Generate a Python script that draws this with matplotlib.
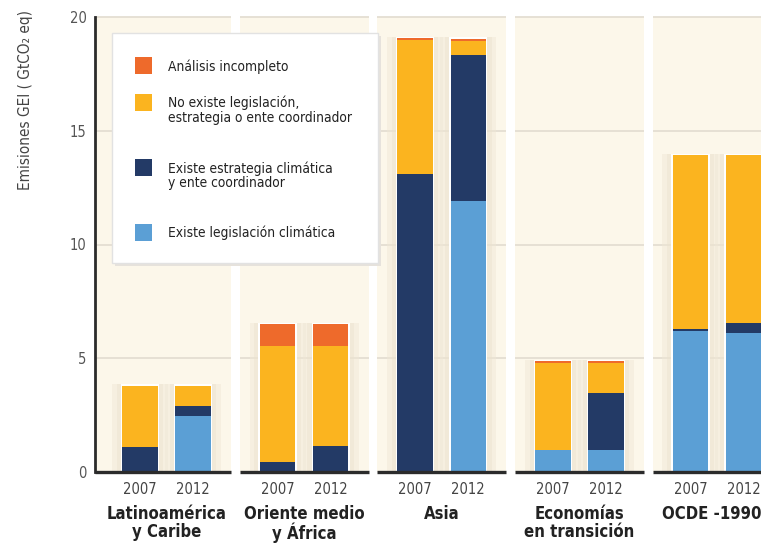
import numpy as np
import matplotlib
matplotlib.use("Agg")
import matplotlib.pyplot as plt
from matplotlib import font_manager as fm
from matplotlib.patches import Rectangle
from matplotlib.transforms import blended_transform_factory

regiones = ["Latinoamérica\ny Caribe", "Oriente medio\ny África", "Asia",
            "Economías\nen transición", "OCDE -1990"]
anios = ["2007", "2012"]

# GtCO2 eq por región -> [2007, 2012]
legislacion = [[0.0, 2.44], [0.0, 0.0], [0.0, 11.9], [0.98, 0.98], [6.21, 6.09]]
estrategia = [[1.08, 0.47], [0.44, 1.15], [13.1, 6.43], [0.0, 2.49], [0.08, 0.47]]
no_existe = [[2.72, 0.89], [5.08, 4.37], [5.87, 0.62], [3.81, 1.32], [7.65, 7.38]]
incompleto = [[0.0, 0.0], [0.98, 0.98], [0.1, 0.1], [0.09, 0.09], [0.0, 0.0]]

etiquetas = ["Existe legislación climática",
             "Existe estrategia climática\ny ente coordinador",
             "No existe legislación,\nestrategia o ente coordinador",
             "Análisis incompleto"]
colores = ["#5b9fd5", "#233a66", "#fbb41f", "#ee6a2b"]

# fuente estrecha si está instalada
if any(f.name == "DejaVu Sans" and f.stretch == "condensed" for f in fm.fontManager.ttflist):
    plt.rcParams["font.family"] = ["DejaVu Sans"]
    plt.rcParams["font.stretch"] = "condensed"
    escala = 1.0
else:
    plt.rcParams["font.family"] = ["DejaVu Sans"]
    escala = 0.88

fig = plt.figure(figsize=(7.61, 5.44), dpi=100)
ax = fig.add_axes([95 / 761, 72 / 544, 666 / 761, 455 / 544])
ax.set_facecolor("white")

x0 = -0.52
x1 = 4.32
ax.set_xlim(x0, x1)
ax.set_ylim(0, 20)

n = len(regiones)
centros = np.arange(n)
off = 0.193
w = 0.258
half = 0.468

# paneles de fondo, rejilla y línea base
for i in centros:
    left = x0 if i == 0 else i - half
    right = i + half
    ax.axvspan(left, right, color="#fcf7ea", zorder=0, lw=0)
    for g in [5, 10, 15, 20]:
        ax.hlines(g, left, right, color="#e4ded2", lw=1.3, zorder=0.5, clip_on=False)
    ax.hlines(0, left, right, color="#2b2b2b", lw=2.4, zorder=4, clip_on=False)

capas = [legislacion, estrategia, no_existe, incompleto]
xs = []
for i in centros:
    for j in range(2):
        x = i + (j - 0.5) * 2 * off
        xs.append(x)
        total = sum(c[i][j] for c in capas)
        # sombra suave
        ax.bar(x, total + 0.05, width=w + 0.15, color="#efe7d6", alpha=0.45, zorder=1, lw=0)
        ax.bar(x, total + 0.05, width=w + 0.08, color="#ebe2cf", alpha=0.45, zorder=1.2, lw=0)
        ax.bar(x, total + 0.06, width=w + 0.02, color="white", zorder=1.5, lw=0)
        base = 0
        for capa, col in zip(capas, colores):
            v = capa[i][j]
            if v > 0:
                ax.bar(x, v, bottom=base, width=w, color=col, zorder=2, lw=0)
            base += v

for s in ["top", "right", "bottom"]:
    ax.spines[s].set_visible(False)
ax.spines["left"].set_color("#2b2b2b")
ax.spines["left"].set_linewidth(2)

ax.set_yticks([0, 5, 10, 15, 20])
ax.tick_params(axis="y", length=0, pad=6, labelsize=10.5 * escala, labelcolor="#555555")
ax.set_xticks(xs)
ax.set_xticklabels(anios * n)
ax.tick_params(axis="x", length=0, pad=7, labelsize=10.5 * escala, labelcolor="#444444")

trans = blended_transform_factory(ax.transData, ax.transAxes)
desplaz = [0, 0, 0, 0, -0.04]
for i, r in enumerate(regiones):
    ax.text(i + desplaz[i], -0.073, r, transform=trans, ha="center", va="top",
            fontsize=12 * escala, fontweight="bold", color="#222222", linespacing=0.95)

fig.text(26 / 761, 1 - 100 / 544, "Emisiones GEI ( GtCO₂ eq)", rotation=90,
         ha="center", va="center", fontsize=11 * escala, color="#444444")


# leyenda dibujada a mano (espaciado irregular como en el original)
def px(xp, yp):
    return (xp - 95) / 666, (472 - yp) / 455


bx0, by0 = px(112, 263)
bx1, by1 = px(378, 33)
ax.add_patch(Rectangle((bx0 + 0.004, by0 - 0.006), bx1 - bx0, by1 - by0, transform=ax.transAxes,
                       facecolor="#e6e2dc", edgecolor="none", zorder=5, clip_on=False))
ax.add_patch(Rectangle((bx0, by0), bx1 - bx0, by1 - by0, transform=ax.transAxes,
                       facecolor="white", edgecolor="#e2e2e2", lw=1, zorder=6, clip_on=False))
filas_y = [57, 94, 159, 224]
for k, (lab, col) in enumerate(zip(etiquetas[::-1], colores[::-1])):
    sx, sy = px(135, filas_y[k] + 17)
    sw = 17 / 666
    sh = 17 / 455
    ax.add_patch(Rectangle((sx, sy), sw, sh, transform=ax.transAxes, facecolor=col,
                           edgecolor="none", zorder=7, clip_on=False))
    tx, ty = px(168, filas_y[k] + 2)
    ax.text(tx, ty, lab, transform=ax.transAxes, ha="left", va="top", fontsize=9.9 * escala,
            color="#222222", linespacing=1.05, zorder=8)

fig.savefig("out.png", dpi=100)
